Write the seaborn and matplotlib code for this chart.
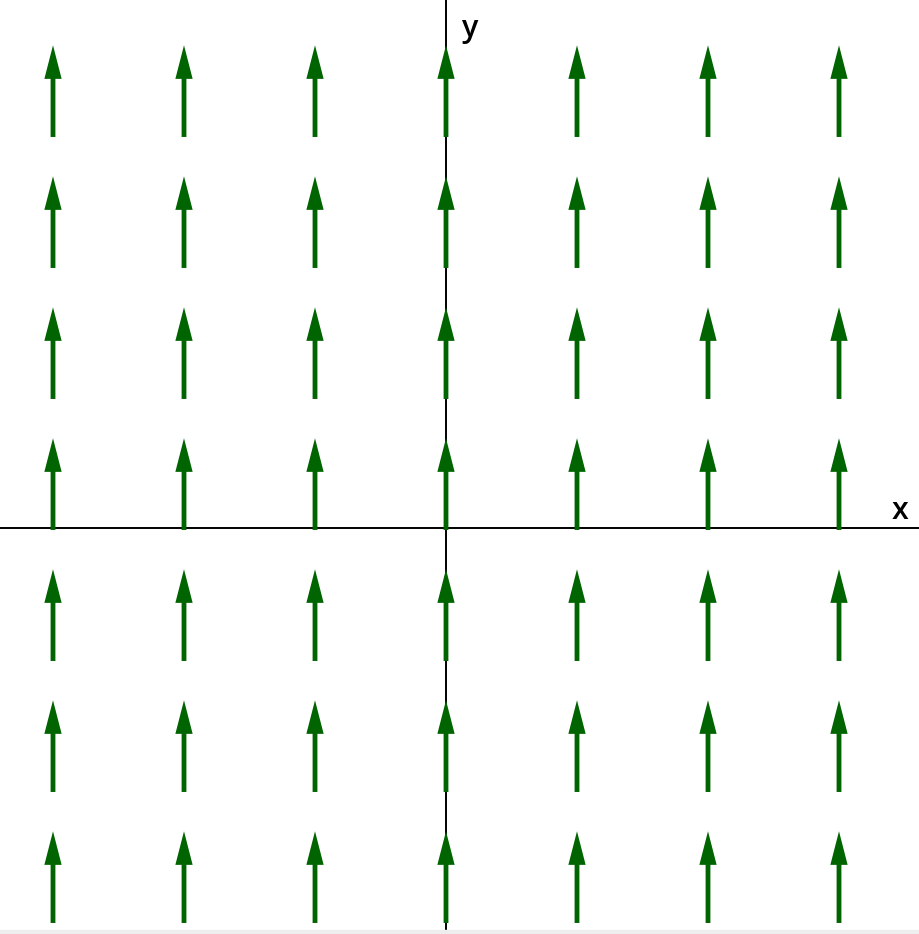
import matplotlib
matplotlib.use('Agg')
import matplotlib.pyplot as plt
import seaborn as sns

# grid points of the slope/vector field and the vector components
x_pts = [-3, -2, -1, 0, 1, 2, 3]
y_pts = [-3, -2, -1, 0, 1, 2, 3]
u_comp = 0.0
v_comp = 0.7

sns.set_theme(style='white')
plt.rcParams['font.family'] = ['Open Sans', 'DejaVu Sans']

# pixel geometry of the picture (unit = 131 px, origin at 446, 528)
unit = 131.0
fig = plt.figure(figsize=(9.2, 9.34), dpi=100)
ax = fig.add_axes([0, 0, 1, 1])
ax.set_xlim(-446 / unit, (920 - 446) / unit)
ax.set_ylim(-(934 - 528) / unit, 528 / unit)
ax.set_axis_off()

# axes through the origin
ax.axhline(0, color='black', lw=1.4, zorder=1)
ax.plot([0, 0], [-(930 - 528) / unit, 528 / unit], color='black', lw=1.4, zorder=1)

X, Y, U, V = [], [], [], []
for yy in y_pts:
    for xx in x_pts:
        X.append(xx)
        Y.append(yy - 0.015)
        U.append(u_comp)
        V.append(v_comp)

ax.quiver(X, Y, U, V, angles='xy', scale_units='xy', scale=1, units='xy',
          width=4.8 / unit, headwidth=3.6, headlength=7.0, headaxislength=7.0,
          color='#006400', zorder=3)

ax.text(461 / 920, 1 - 29 / 934, 'y', transform=fig.transFigure, fontsize=22,
        fontweight='semibold', ha='left', va='center', color='black')
ax.text(900 / 920, 1 - 511 / 934, 'x', transform=fig.transFigure, fontsize=22,
        fontweight='semibold', ha='center', va='center', color='black')

# light strip at the bottom edge
fig.patches.append(plt.Rectangle((0, 0), 1, 4 / 934, transform=fig.transFigure,
                                 color='#eeeeee', zorder=0))

fig.savefig('out.png', dpi=100)
